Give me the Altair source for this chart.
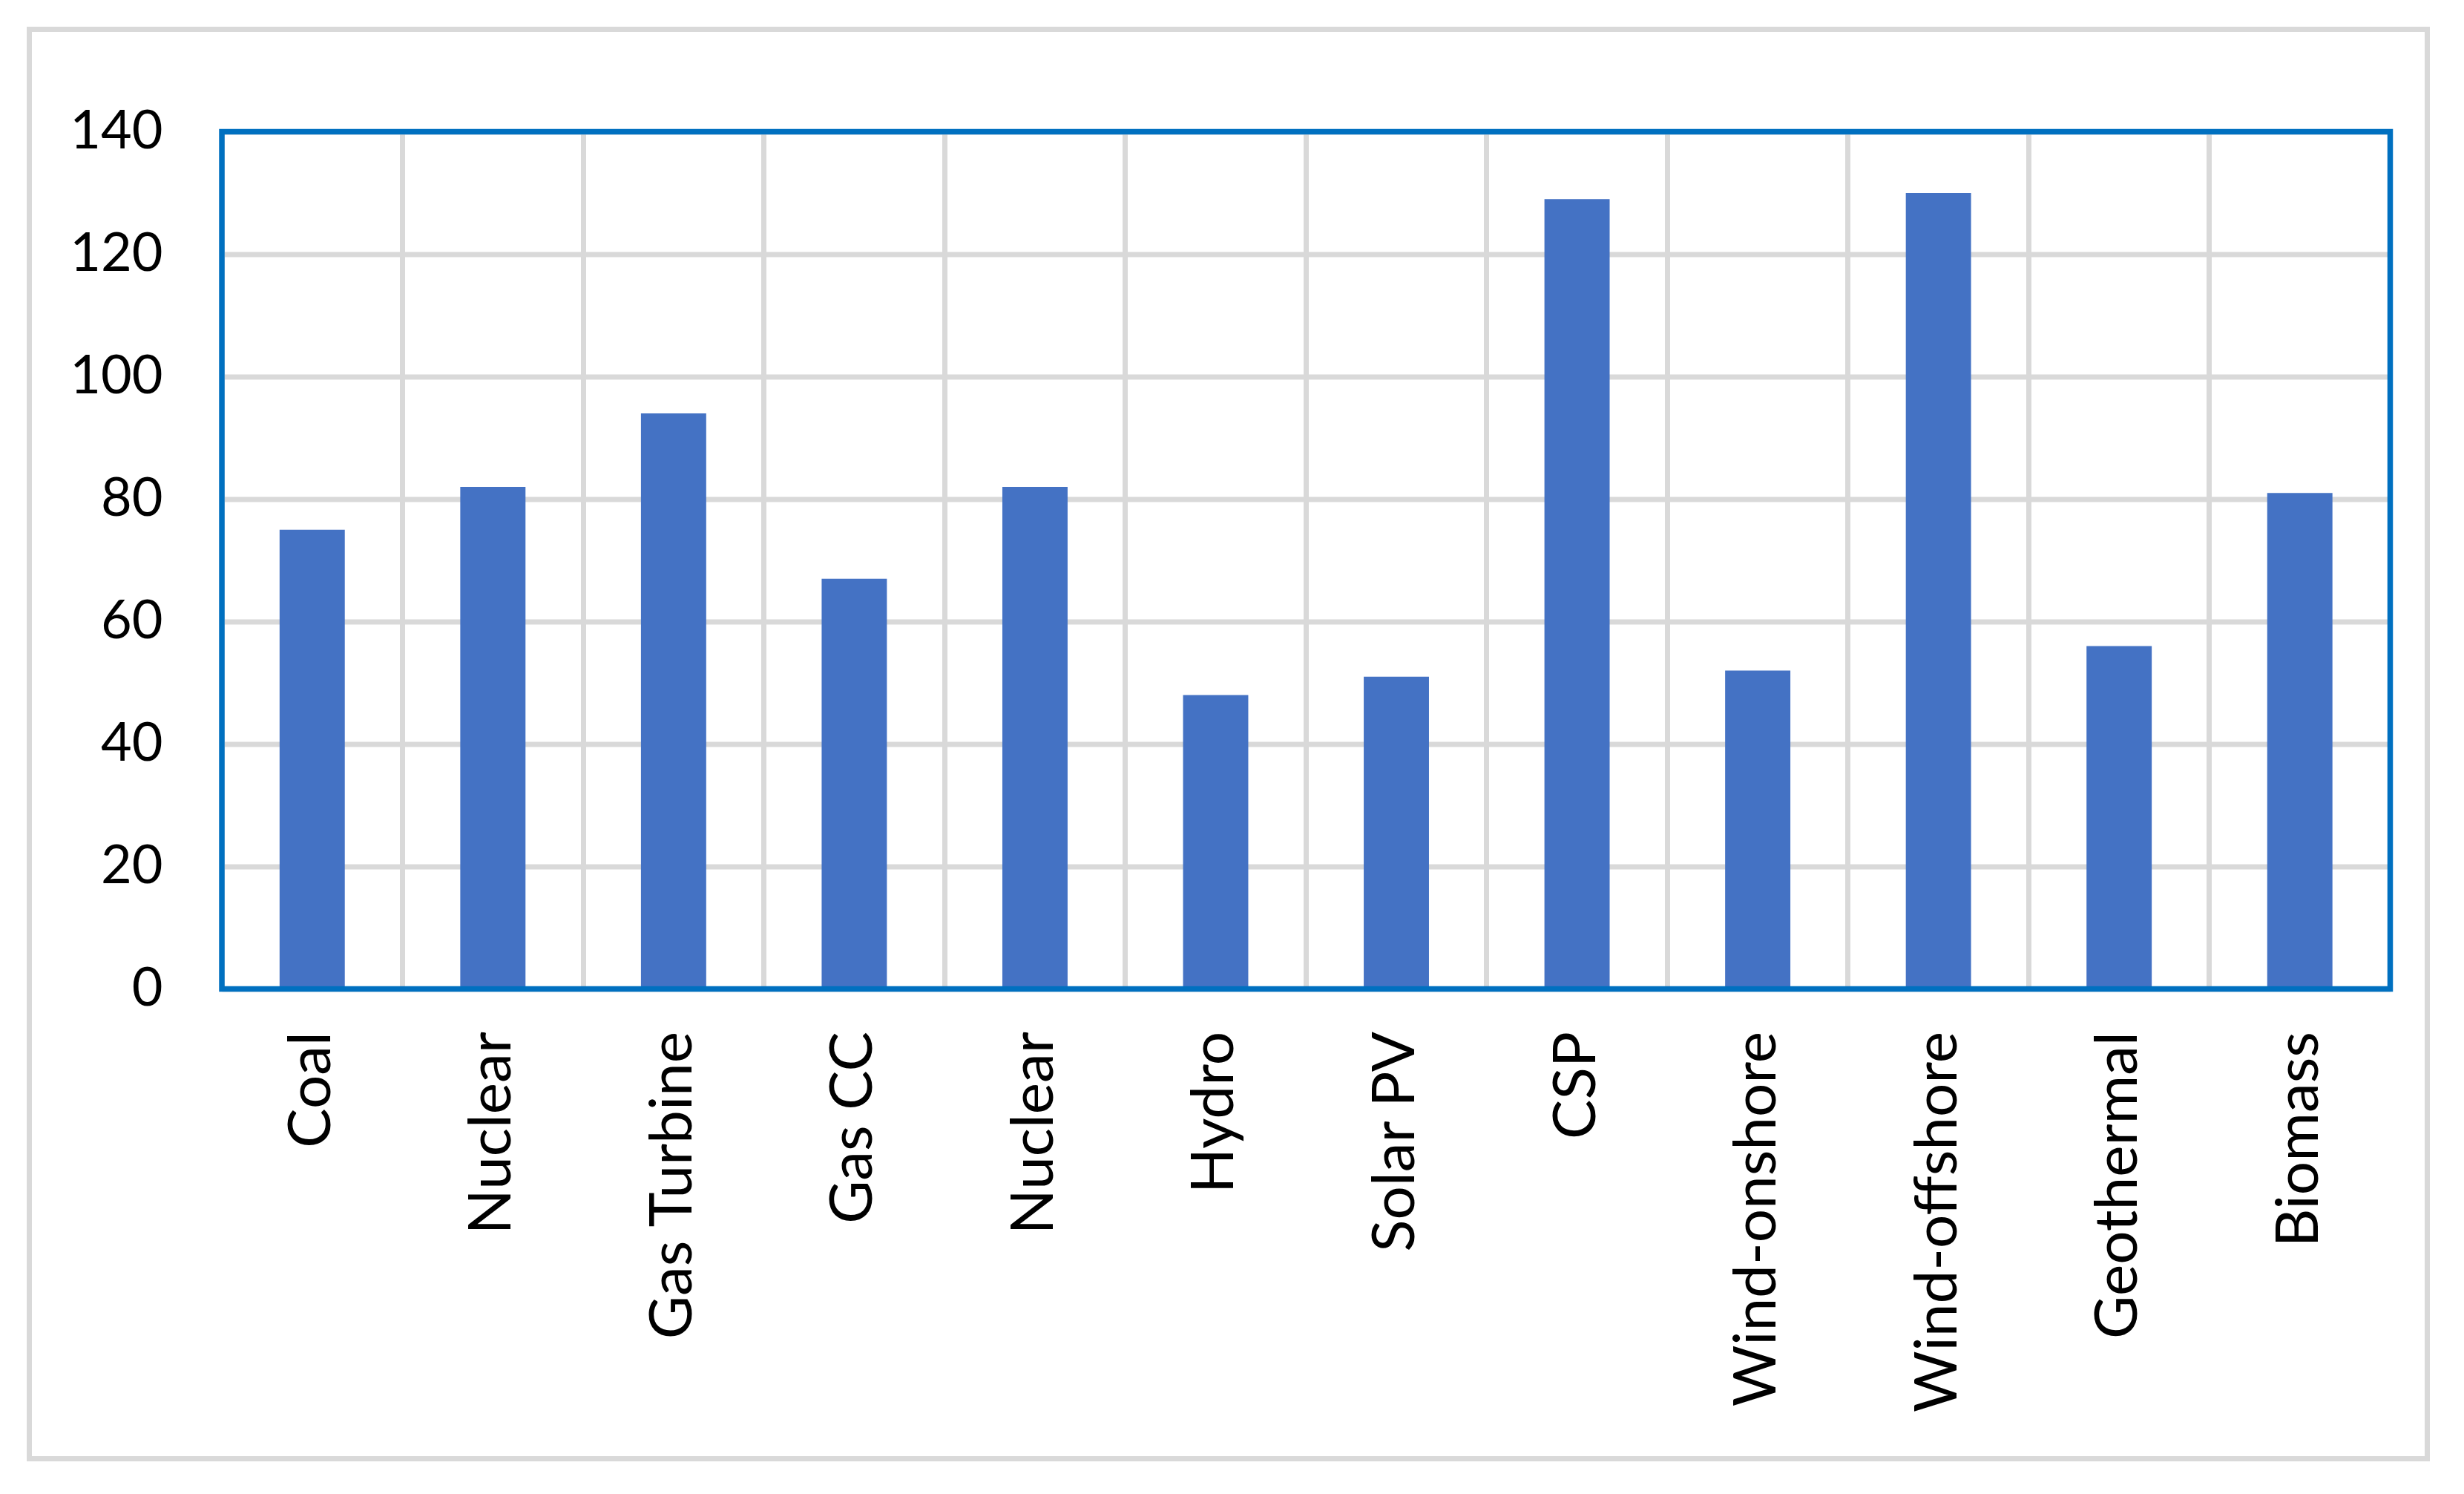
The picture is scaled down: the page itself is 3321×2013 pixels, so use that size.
import json
import altair as alt
import pandas as pd

# ---- data ----
categories = ["Coal", "Nuclear", "Gas Turbine", "Gas CC", "Nuclear", "Hydro",
              "Solar PV", "CSP", "Wind-onshore", "Wind-offshore", "Geothermal", "Biomass"]
values = [75, 82, 94, 67, 82, 48, 51, 129, 52, 130, 56, 81]
y_ticks = [0, 20, 40, 60, 80, 100, 120, 140]

# ---- layout (pixels) ----
W, H = 2922.5, 1155
PAD_L, PAD_T = 291, 169.5
BAR_COLOR = "#4472C4"
FRAME_BLUE = "#0070C0"
GRID_GRAY = "#D9D9D9"
FONT = "Lato"

df = pd.DataFrame({"idx": list(range(len(categories))), "name": categories, "value": values})
label_expr = json.dumps(categories) + "[datum.value]"

bars = alt.Chart(df).mark_bar(
    color=BAR_COLOR, width=alt.RelativeBandSize(0.361)
).encode(
    x=alt.X("idx:O", title=None,
            scale=alt.Scale(paddingInner=0, paddingOuter=0),
            axis=alt.Axis(labelExpr=label_expr, labelAngle=270, labelFontSize=80,
                          labelFont=FONT, labelColor="#000000", labelPadding=57,
                          labelLimit=2000,
                          domain=False, ticks=False, grid=True, bandPosition=0,
                          gridColor=GRID_GRAY, gridWidth=7, labelOverlap=False)),
    y=alt.Y("value:Q", title=None,
            scale=alt.Scale(domain=[0, 140], nice=False, zero=True),
            axis=alt.Axis(values=y_ticks, labelFontSize=72, labelFont=FONT,
                          labelColor="#000000", labelPadding=80, domain=False,
                          ticks=False, grid=True, gridColor=GRID_GRAY, gridWidth=7)),
)

one = pd.DataFrame({"k": [0]})

frame = alt.Chart(one).mark_rect(
    fillOpacity=0, stroke=FRAME_BLUE, strokeWidth=7.5
).encode(
    x=alt.value(0), x2=alt.value(W), y=alt.value(0), y2=alt.value(H)
)

outer = alt.Chart(one).mark_rect(
    fillOpacity=0, stroke=GRID_GRAY, strokeWidth=7
).encode(
    x=alt.value(39.5 - 8 - PAD_L), x2=alt.value(3271.5 - 8 - PAD_L),
    y=alt.value(39.5 - 8 - PAD_T), y2=alt.value(1965.5 - 8 - PAD_T)
)

chart = alt.layer(outer, bars, frame).properties(
    width=W, height=H,
    autosize=alt.AutoSizeParams(type="none"),
    padding={"left": PAD_L, "top": PAD_T, "right": 85, "bottom": 670},
    background="white",
).configure_view(stroke=None)

chart.save("out.html", embed_options={"renderer": "svg", "actions": False})
